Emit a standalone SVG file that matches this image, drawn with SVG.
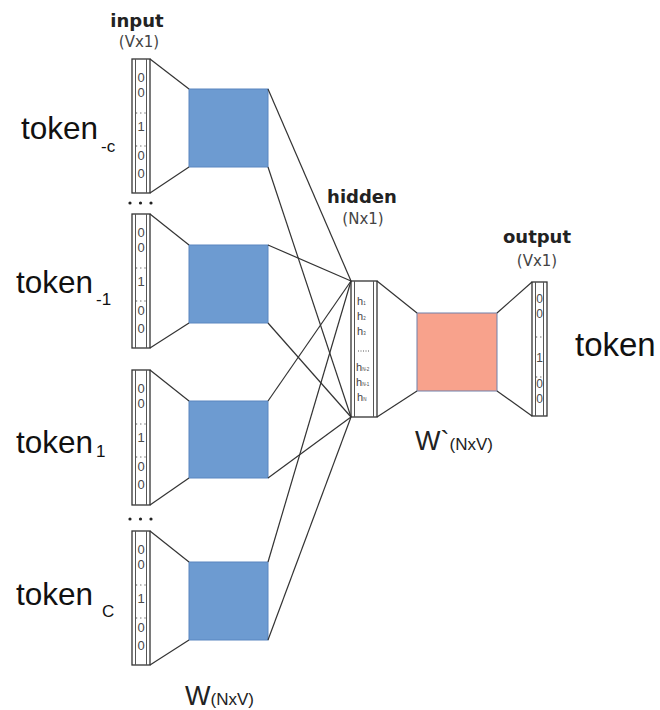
<svg xmlns="http://www.w3.org/2000/svg" width="660" height="710" viewBox="0 0 660 710">
<style>
.vec{fill:#fff;stroke:#333;stroke-width:1.3}
.inner{stroke:#555;stroke-width:1}
.dots{stroke:#555;stroke-width:1;stroke-dasharray:1.2,3}
.bit{font-family:"Liberation Sans",Arial,sans-serif;font-size:13px;fill:#4a4a4a;text-anchor:middle}
.obit{font-family:"Liberation Sans",Arial,sans-serif;font-size:12px;fill:#4a4a4a;text-anchor:middle}
.w{fill:#6d9bd1;stroke:#5a86c0;stroke-width:1}
.wp{fill:#f8a28c;stroke:#7080aa;stroke-width:1}
.tok{font-family:"Liberation Sans",Arial,sans-serif;font-size:31.5px;fill:#111}
.sub{font-family:"Liberation Sans",Arial,sans-serif;font-size:17px;fill:#111}
.head{font-family:"DejaVu Sans",sans-serif;font-size:18px;font-weight:bold;fill:#222;text-anchor:middle}
.dim{font-family:"DejaVu Sans",sans-serif;font-size:15px;fill:#444;text-anchor:middle}
.wl{font-family:"Liberation Sans",Arial,sans-serif;font-size:27px;fill:#222}
.wls{font-size:17px}
.h{font-family:"Liberation Sans",Arial,sans-serif;font-size:11px;fill:#444}
.hs{font-size:4.5px}
.conn line{stroke:#333;stroke-width:1.2}
.ell{fill:#222}
</style>

<g id="input-label">
<text class="head" x="137" y="27">input</text>
<text class="dim" x="139" y="47">(Vx1)</text>
</g>

<g id="input-c">
<rect class="vec" x="132" y="59" width="18" height="134"/>
<line class="inner" x1="135.5" y1="59" x2="135.5" y2="193"/>
<line class="inner" x1="146.5" y1="59" x2="146.5" y2="193"/>
<text class="bit" x="141" y="82">0</text>
<text class="bit" x="141" y="97">0</text>
<line class="dots" x1="136" y1="113" x2="146" y2="113"/>
<text class="bit" x="141" y="131">1</text>
<line class="dots" x1="136" y1="146" x2="146" y2="146"/>
<text class="bit" x="141" y="160">0</text>
<text class="bit" x="141" y="178">0</text>
</g>

<g id="input-m1">
<rect class="vec" x="132" y="214" width="18" height="134"/>
<line class="inner" x1="135.5" y1="214" x2="135.5" y2="348"/>
<line class="inner" x1="146.5" y1="214" x2="146.5" y2="348"/>
<text class="bit" x="141" y="237">0</text>
<text class="bit" x="141" y="252">0</text>
<line class="dots" x1="136" y1="268" x2="146" y2="268"/>
<text class="bit" x="141" y="286">1</text>
<line class="dots" x1="136" y1="301" x2="146" y2="301"/>
<text class="bit" x="141" y="315">0</text>
<text class="bit" x="141" y="333">0</text>
</g>

<g id="input-p1">
<rect class="vec" x="132" y="370" width="18" height="135"/>
<line class="inner" x1="135.5" y1="370" x2="135.5" y2="505"/>
<line class="inner" x1="146.5" y1="370" x2="146.5" y2="505"/>
<text class="bit" x="141" y="393">0</text>
<text class="bit" x="141" y="408">0</text>
<line class="dots" x1="136" y1="424" x2="146" y2="424"/>
<text class="bit" x="141" y="442">1</text>
<line class="dots" x1="136" y1="457" x2="146" y2="457"/>
<text class="bit" x="141" y="471">0</text>
<text class="bit" x="141" y="489">0</text>
</g>

<g id="input-C">
<rect class="vec" x="132" y="531" width="18" height="134"/>
<line class="inner" x1="135.5" y1="531" x2="135.5" y2="665"/>
<line class="inner" x1="146.5" y1="531" x2="146.5" y2="665"/>
<text class="bit" x="141" y="554">0</text>
<text class="bit" x="141" y="569">0</text>
<line class="dots" x1="136" y1="585" x2="146" y2="585"/>
<text class="bit" x="141" y="603">1</text>
<line class="dots" x1="136" y1="618" x2="146" y2="618"/>
<text class="bit" x="141" y="632">0</text>
<text class="bit" x="141" y="650">0</text>
</g>

<g id="ellipsis">
<circle class="ell" cx="130" cy="203" r="1.6"/><circle class="ell" cx="140.5" cy="203" r="1.6"/><circle class="ell" cx="151" cy="203" r="1.6"/>
<circle class="ell" cx="130" cy="519" r="1.6"/><circle class="ell" cx="140.5" cy="519" r="1.6"/><circle class="ell" cx="151" cy="519" r="1.6"/>
</g>

<g id="tokens">
<text class="tok" x="21" y="139">token</text><text class="sub" x="101" y="152">-c</text>
<text class="tok" x="16" y="293">token</text><text class="sub" x="96" y="305">-1</text>
<text class="tok" x="16" y="453">token</text><text class="sub" x="96" y="457">1</text>
<text class="tok" x="16" y="605">token</text><text class="sub" x="102" y="617">C</text>
</g>

<g id="W1"><rect class="w" x="189" y="89" width="79" height="78"/></g>
<g id="W2"><rect class="w" x="189" y="245" width="79" height="78"/></g>
<g id="W3"><rect class="w" x="189" y="401" width="79" height="77"/></g>
<g id="W4"><rect class="w" x="189" y="562" width="79" height="78"/></g>

<g id="W-label"><text class="wl" x="185" y="705">W<tspan class="wls">(NxV)</tspan></text></g>

<g id="hidden">
<text class="head" x="362" y="203">hidden</text>
<text class="dim" x="363" y="224">(Nx1)</text>
<rect class="vec" x="351" y="281" width="26" height="136"/>
<line class="inner" x1="354.5" y1="281" x2="354.5" y2="417"/>
<line class="inner" x1="373.5" y1="281" x2="373.5" y2="417"/>
<text class="h" x="357" y="305">h<tspan class="hs">1</tspan></text>
<text class="h" x="357" y="320">h<tspan class="hs">2</tspan></text>
<text class="h" x="357" y="335">h<tspan class="hs">3</tspan></text>
<line class="dots" x1="358" y1="351" x2="369" y2="351" style="stroke-dasharray:1,1.5"/>
<text class="h" x="356" y="371">h<tspan class="hs">N-2</tspan></text>
<text class="h" x="356" y="386">h<tspan class="hs">N-1</tspan></text>
<text class="h" x="357" y="401">h<tspan class="hs">N</tspan></text>
</g>

<g id="Wprime">
<rect class="wp" x="417" y="313" width="80" height="78"/>
<text class="wl" x="415" y="450">W`<tspan class="wls">(NxV)</tspan></text>
</g>

<g id="output">
<text class="head" x="537" y="243">output</text>
<text class="dim" x="537" y="266">(Vx1)</text>
<rect class="vec" x="532" y="282" width="15" height="134"/>
<line class="inner" x1="535.5" y1="282" x2="535.5" y2="416"/>
<line class="inner" x1="543.5" y1="282" x2="543.5" y2="416"/>
<text class="obit" x="539.5" y="303">0</text>
<text class="obit" x="539.5" y="318">0</text>
<line class="dots" x1="536" y1="337" x2="543" y2="337"/>
<text class="obit" x="539.5" y="362">1</text>
<line class="dots" x1="536" y1="377" x2="543" y2="377"/>
<text class="obit" x="539.5" y="388">0</text>
<text class="obit" x="539.5" y="403">0</text>
</g>

<g id="token-out"><text class="tok" x="575" y="356" style="font-size:33px">token</text></g>

<g id="connectors" class="conn">
<line x1="150" y1="59" x2="189" y2="89"/>
<line x1="150" y1="193" x2="189" y2="167"/>
<line x1="150" y1="214" x2="189" y2="245"/>
<line x1="150" y1="348" x2="189" y2="323"/>
<line x1="150" y1="370" x2="189" y2="401"/>
<line x1="150" y1="505" x2="189" y2="478"/>
<line x1="150" y1="531" x2="189" y2="562"/>
<line x1="150" y1="665" x2="189" y2="640"/>
<line x1="268" y1="89" x2="351" y2="281"/>
<line x1="268" y1="167" x2="351" y2="417"/>
<line x1="268" y1="245" x2="351" y2="281"/>
<line x1="268" y1="323" x2="351" y2="417"/>
<line x1="268" y1="401" x2="351" y2="281"/>
<line x1="268" y1="478" x2="351" y2="417"/>
<line x1="268" y1="562" x2="351" y2="281"/>
<line x1="268" y1="640" x2="351" y2="417"/>
<line x1="377" y1="281" x2="417" y2="313"/>
<line x1="377" y1="417" x2="417" y2="391"/>
<line x1="497" y1="313" x2="532" y2="282"/>
<line x1="497" y1="391" x2="532" y2="416"/>
</g>
</svg>
